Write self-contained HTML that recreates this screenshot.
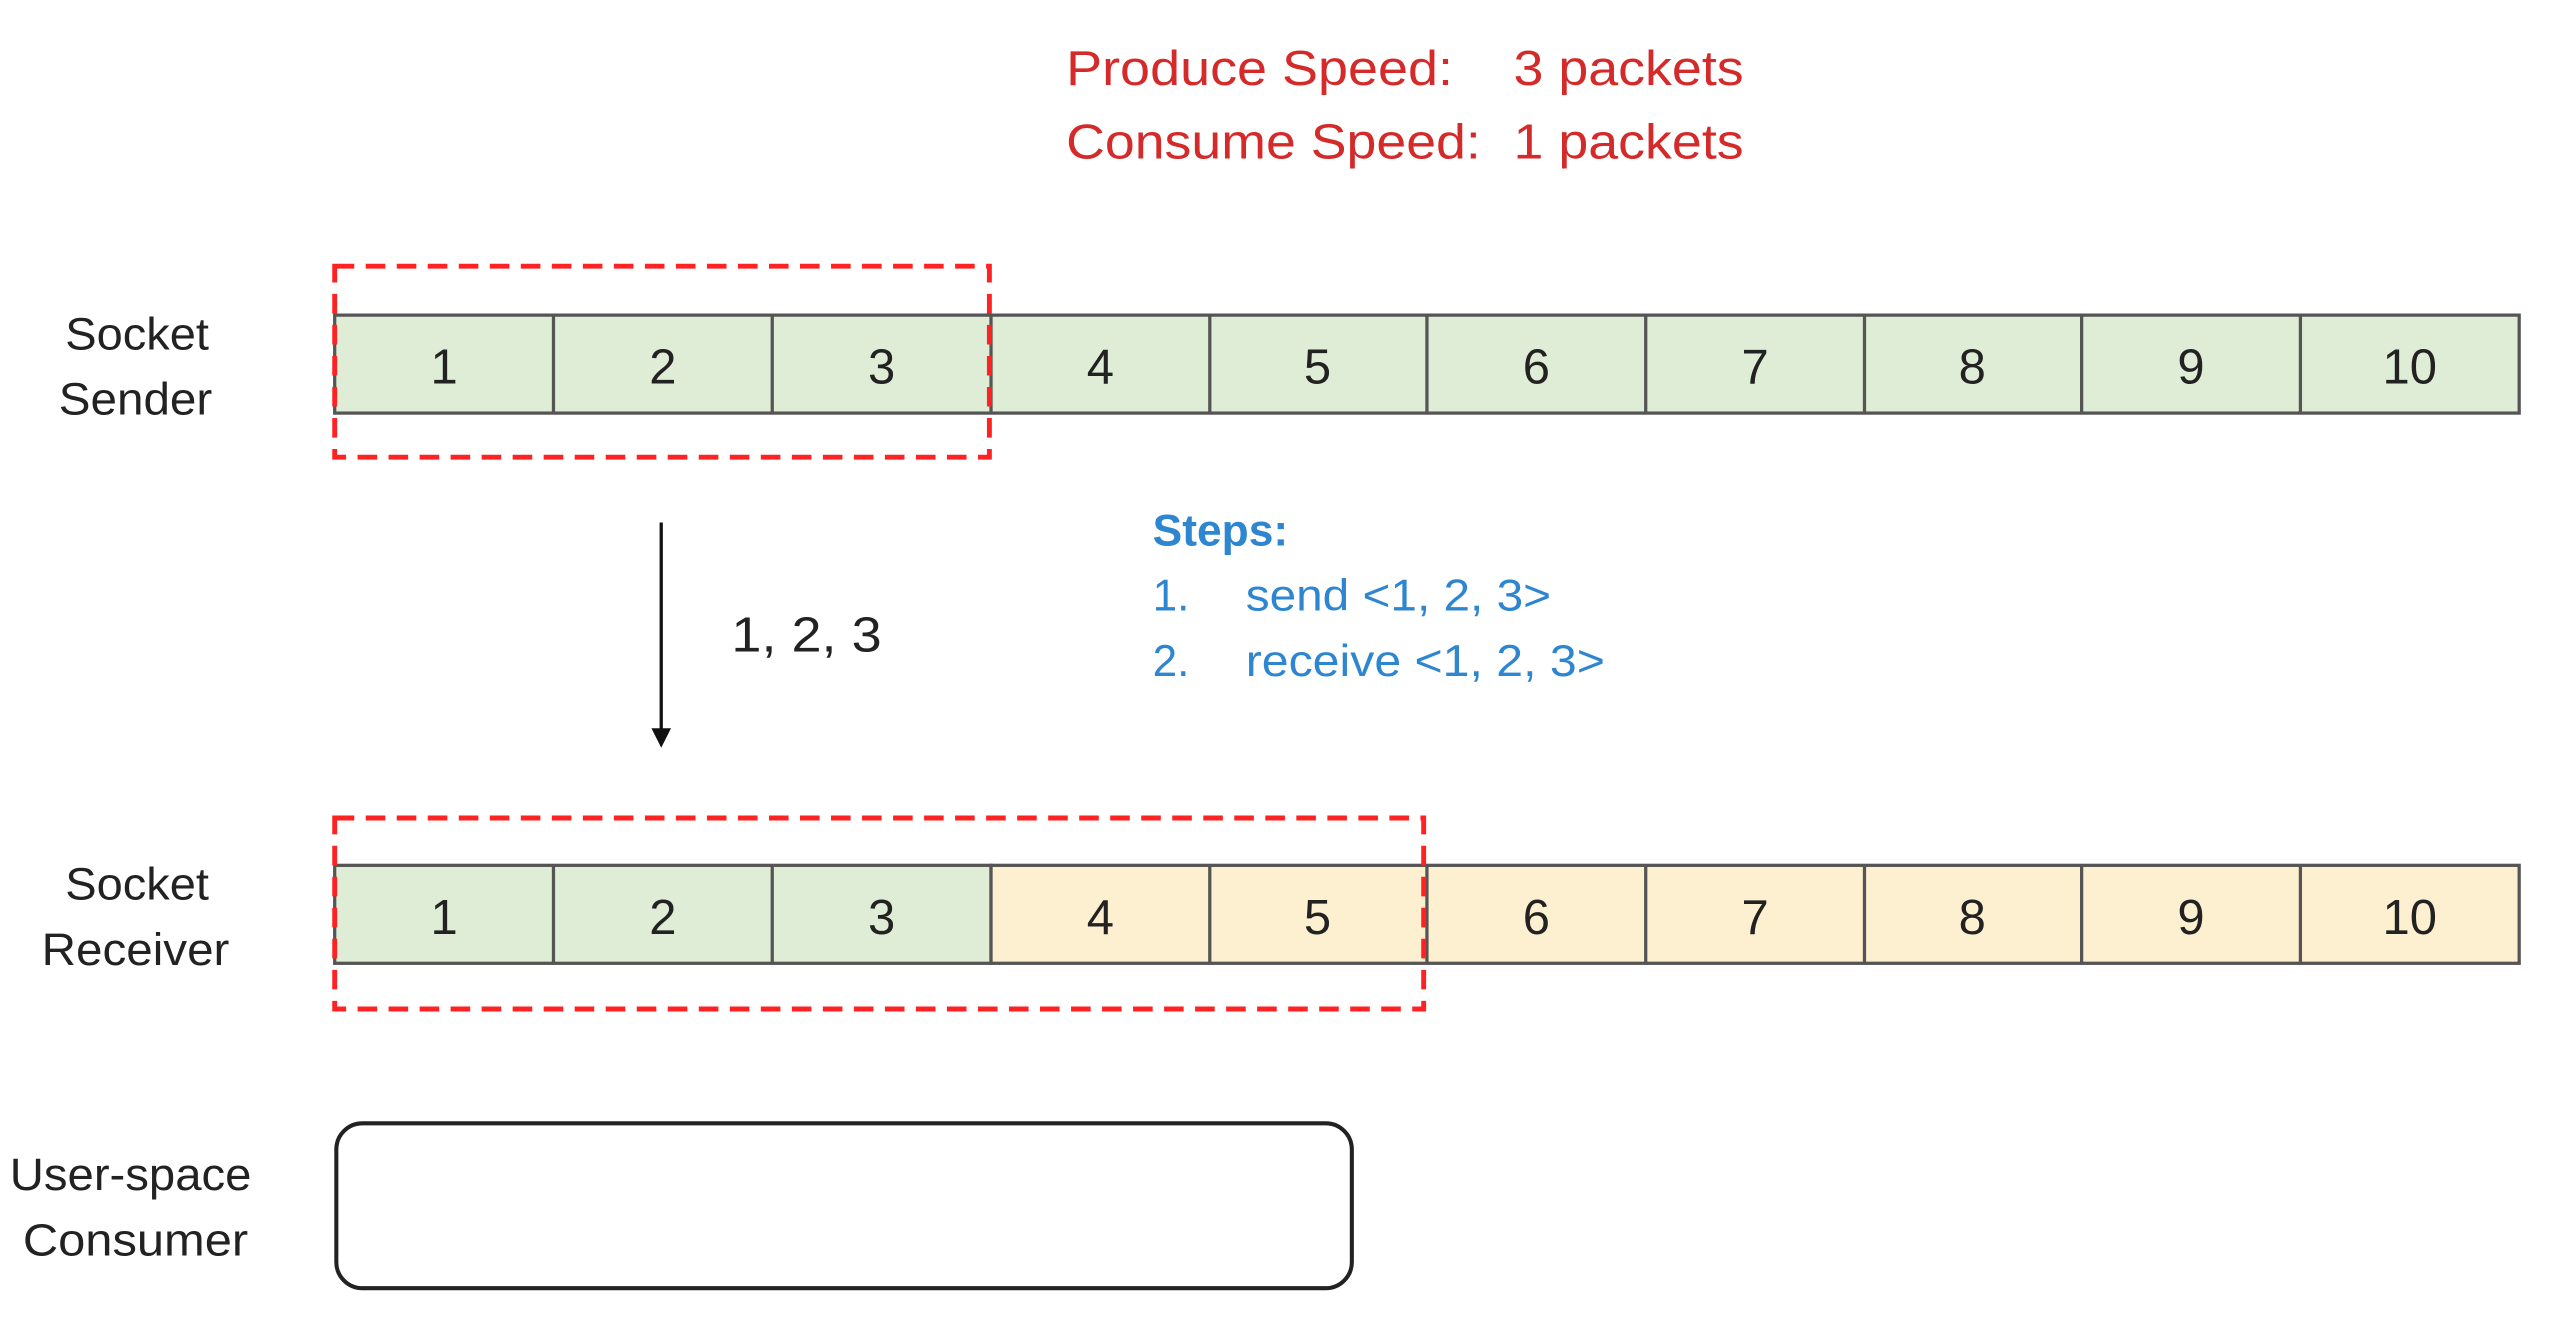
<!DOCTYPE html>
<html><head><meta charset="utf-8"><style>
html,body{margin:0;padding:0;background:#fff;width:2560px;height:1331px;overflow:hidden}
svg{display:block}
text{font-family:"Liberation Sans",sans-serif}
</style></head><body>
<svg width="2560" height="1331" viewBox="0 0 1568 815.2" xmlns="http://www.w3.org/2000/svg">
<rect width="1568" height="816" fill="#fff"/>
<g fill="#d42a2a" font-size="30">
<text x="653" y="52" textLength="237" lengthAdjust="spacingAndGlyphs">Produce Speed:</text>
<text x="927" y="52" textLength="141" lengthAdjust="spacingAndGlyphs">3 packets</text>
<text x="653" y="97" textLength="254" lengthAdjust="spacingAndGlyphs">Consume Speed:</text>
<text x="927" y="97" textLength="141" lengthAdjust="spacingAndGlyphs">1 packets</text>
</g>
<g fill="#222" font-size="28" text-anchor="middle">
<text x="84" y="214" textLength="88" lengthAdjust="spacingAndGlyphs">Socket</text>
<text x="83" y="254" textLength="94" lengthAdjust="spacingAndGlyphs">Sender</text>
<text x="84" y="551" textLength="88" lengthAdjust="spacingAndGlyphs">Socket</text>
<text x="83" y="591" textLength="115" lengthAdjust="spacingAndGlyphs">Receiver</text>
<text x="80" y="729" textLength="148" lengthAdjust="spacingAndGlyphs">User-space</text>
<text x="83" y="769" textLength="138" lengthAdjust="spacingAndGlyphs">Consumer</text>
</g>
<!-- sender row -->
<g stroke="#555" stroke-width="2">
<rect x="205" y="193" width="1338" height="60" fill="#dfedd6"/>
<rect x="205" y="530" width="402" height="60" fill="#dfedd6"/>
<rect x="607" y="530" width="936" height="60" fill="#fdf0d0"/>
<line x1="339" y1="193" x2="339" y2="253"/><line x1="473" y1="193" x2="473" y2="253"/><line x1="607" y1="193" x2="607" y2="253"/><line x1="741" y1="193" x2="741" y2="253"/><line x1="874" y1="193" x2="874" y2="253"/><line x1="1008" y1="193" x2="1008" y2="253"/><line x1="1142" y1="193" x2="1142" y2="253"/><line x1="1275" y1="193" x2="1275" y2="253"/><line x1="1409" y1="193" x2="1409" y2="253"/>
<line x1="339" y1="530" x2="339" y2="590"/><line x1="473" y1="530" x2="473" y2="590"/><line x1="741" y1="530" x2="741" y2="590"/><line x1="874" y1="530" x2="874" y2="590"/><line x1="1008" y1="530" x2="1008" y2="590"/><line x1="1142" y1="530" x2="1142" y2="590"/><line x1="1275" y1="530" x2="1275" y2="590"/><line x1="1409" y1="530" x2="1409" y2="590"/>
</g>
<g fill="#222" font-size="30" text-anchor="middle">
<text x="272" y="235">1</text><text x="406" y="235">2</text><text x="540" y="235">3</text><text x="674" y="235">4</text><text x="807" y="235">5</text><text x="941" y="235">6</text><text x="1075" y="235">7</text><text x="1208" y="235">8</text><text x="1342" y="235">9</text><text x="1476" y="235">10</text>
<text x="272" y="572">1</text><text x="406" y="572">2</text><text x="540" y="572">3</text><text x="674" y="572">4</text><text x="807" y="572">5</text><text x="941" y="572">6</text><text x="1075" y="572">7</text><text x="1208" y="572">8</text><text x="1342" y="572">9</text><text x="1476" y="572">10</text>
</g>
<g fill="none" stroke="#f22" stroke-width="3" stroke-dasharray="12 7">
<rect x="205" y="163" width="401" height="117"/>
<rect x="205" y="501" width="667" height="117"/>
</g>
<!-- arrow -->
<line x1="405" y1="320" x2="405" y2="448" stroke="#111" stroke-width="2"/>
<polygon points="399,446 411,446 405,458" fill="#111"/>
<text x="448" y="399" font-size="30" fill="#222" textLength="92" lengthAdjust="spacingAndGlyphs">1, 2, 3</text>
<g fill="#2e86d0" font-size="27">
<text x="706" y="334" font-weight="bold" textLength="83" lengthAdjust="spacingAndGlyphs">Steps:</text>
<text x="706" y="374">1.</text>
<text x="763" y="374" textLength="187" lengthAdjust="spacingAndGlyphs">send &lt;1, 2, 3&gt;</text>
<text x="706" y="414">2.</text>
<text x="763" y="414" textLength="220" lengthAdjust="spacingAndGlyphs">receive &lt;1, 2, 3&gt;</text>
</g>
<rect x="206" y="688" width="622" height="101" rx="16" fill="#fff" stroke="#222" stroke-width="2.5"/>
</svg>
</body></html>
